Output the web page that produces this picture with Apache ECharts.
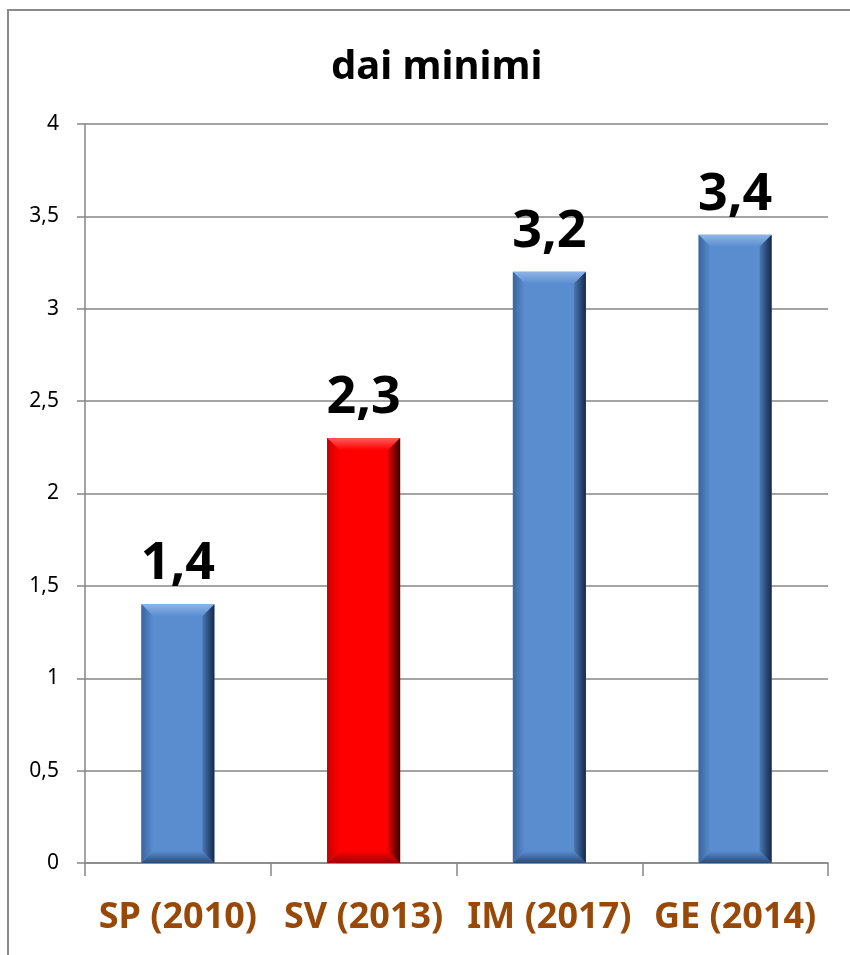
<!DOCTYPE html>
<html><head><meta charset="utf-8">
<script src="https://cdn.jsdelivr.net/npm/echarts@6/dist/echarts.min.js"></script>
<style>html,body{margin:0;padding:0;background:#fff}#c{width:850px;height:955px}</style>
</head><body><div id="c"></div>
<script>
const categories = ['SP (2010)', 'SV (2013)', 'IM (2017)', 'GE (2014)'];
const values = [1.4, 2.3, 3.2, 3.4];
const highlight = [false, true, false, false];
const titleText = 'dai minimi';
const FONT = "'Noto Sans', 'DejaVu Sans', sans-serif";
const BAR_W = 73, BEV = 12;

const pal = {
  blue:{base:'#5a8dd0', top:['#8db4e6','#5a8dd0'], right:['#4a78b4','#14284a'], left:['#3a659e','#5a8dd0'], bottom:['#5a8dd0','#2a4a78']},
  red:{base:'#ff0000', top:['#ff5a5a','#ff0000'], right:['#e00000','#3a0000'], left:['#c80000','#ff0000'], bottom:['#ff0000','#a00000']}
};
function lg(x2,y2,c){return {type:'linear',x:0,y:0,x2:x2,y2:y2,colorStops:[{offset:0,color:c[0]},{offset:1,color:c[1]}]};}

const chart = echarts.init(document.getElementById('c'));
chart.setOption({
  animation:false,
  graphic:[{type:'rect',shape:{x:8,y:10,width:900,height:1000},style:{fill:'none',stroke:'#8a8a8a',lineWidth:2}}],
  title:{text:titleText,left:326,top:43,textStyle:{fontFamily:FONT,fontWeight:'bold',fontSize:40,color:'#000'}},
  grid:{left:85,right:22,top:124,bottom:92},
  xAxis:{type:'category',data:categories,
    axisLine:{lineStyle:{color:'#868686',width:1.5}},
    axisTick:{show:true,length:13,alignWithLabel:false,lineStyle:{color:'#868686',width:1.5}},
    axisLabel:{margin:37,fontFamily:FONT,fontWeight:'bold',fontSize:36,color:'#984807',interval:0}},
  yAxis:{type:'value',min:0,max:4,interval:0.5,
    axisLine:{show:true,lineStyle:{color:'#868686',width:1.5}},
    axisTick:{show:true,length:8,lineStyle:{color:'#868686',width:1.5}},
    splitLine:{lineStyle:{color:'#868686',width:1.5}},
    axisLabel:{margin:26,fontFamily:FONT,fontSize:21,color:'#000',formatter:v=>String(v).replace('.',',')}},
  series:[
    {type:'bar',barWidth:BAR_W,
      data:values.map((v,i)=>({value:v,itemStyle:{color:highlight[i]?pal.red.base:pal.blue.base}})),
      label:{show:true,position:'top',distance:14,fontFamily:FONT,fontWeight:'bold',fontSize:52,color:'#000',
        formatter:p=>String(p.value).replace('.',',')}},
    {type:'custom',z:3,silent:true,
      data:values.map((v,i)=>[i,v,highlight[i]?1:0]),
      encode:{x:0,y:1},
      renderItem:function(params,api){
        const top=api.coord([api.value(0),api.value(1)]);
        const bot=api.coord([api.value(0),0]);
        const p=api.value(2)?pal.red:pal.blue;
        const x0=top[0]-BAR_W/2, x1=top[0]+BAR_W/2, yt=top[1], yb=bot[1], b=BEV;
        return {type:'group',children:[
          {type:'polygon',shape:{points:[[x0,yt],[x1,yt],[x1-b,yt+b],[x0+b,yt+b]]},style:{fill:lg(0,1,p.top)}},
          {type:'polygon',shape:{points:[[x0,yb],[x0+b,yb-b],[x1-b,yb-b],[x1,yb]]},style:{fill:lg(0,1,p.bottom)}},
          {type:'polygon',shape:{points:[[x1,yt],[x1,yb],[x1-b,yb-b],[x1-b,yt+b]]},style:{fill:lg(1,0,p.right)}},
          {type:'polygon',shape:{points:[[x0,yt],[x0+b,yt+b],[x0+b,yb-b],[x0,yb]]},style:{fill:lg(1,0,p.left)}}
        ]};
      }}
  ]
});
</script></body></html>
